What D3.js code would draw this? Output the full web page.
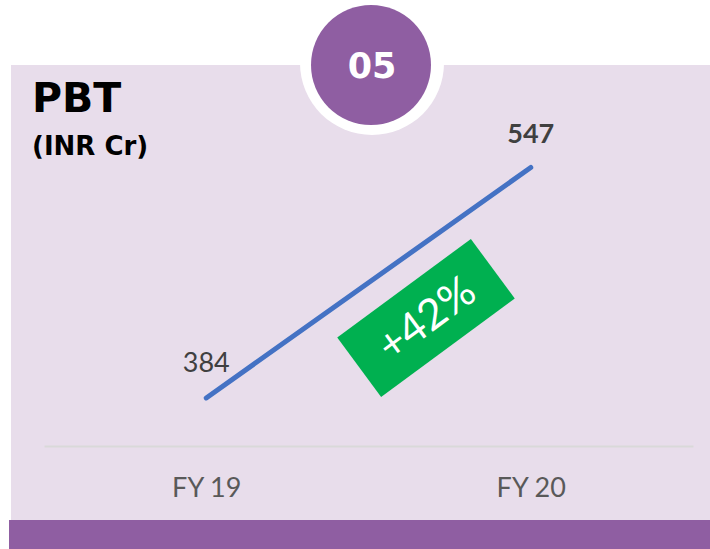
<!DOCTYPE html>
<html>
<head>
<meta charset="utf-8">
<script src="https://cdn.jsdelivr.net/npm/d3@7"></script>
<style>
  body { margin: 0; background: #fff; }
  svg { display: block; }
</style>
</head>
<body>
<script>
let width = 710;
let height = 549;

// chart data
let years = ["FY 19", "FY 20"];
let pbt = [384, 547];
let growthLabel = "+42%";
let badgeLabel = "05";

let svg = d3.select("body").append("svg")
            .attr("width", width)
            .attr("height", height);

// panel background + footer bar
svg.append("rect")
   .attr("x", 11).attr("y", 65)
   .attr("width", width - 11).attr("height", 455)
   .attr("fill", "#E8DDEB");
svg.append("rect")
   .attr("x", 9).attr("y", 520)
   .attr("width", width - 9).attr("height", height - 520)
   .attr("fill", "#8F5EA2");

// badge circle with white halo
svg.append("circle")
   .attr("cx", 372).attr("cy", 63).attr("r", 72)
   .attr("fill", "#fff");
svg.append("circle")
   .attr("cx", 371).attr("cy", 65).attr("r", 60)
   .attr("fill", "#8F5EA2");
svg.append("text")
   .attr("x", 372).attr("y", 78)
   .attr("text-anchor", "middle")
   .attr("font-family", "'DejaVu Sans', sans-serif")
   .attr("font-weight", 700)
   .attr("font-size", 35)
   .attr("fill", "#fff")
   .text(badgeLabel);

// titles
svg.append("text")
   .attr("x", 32).attr("y", 112)
   .attr("font-family", "'DejaVu Sans', sans-serif")
   .attr("font-weight", 700)
   .attr("font-size", 41)
   .attr("fill", "#000")
   .text("PBT");
svg.append("text")
   .attr("x", 32).attr("y", 155)
   .attr("font-family", "'DejaVu Sans', sans-serif")
   .attr("font-weight", 700)
   .attr("font-size", 26)
   .attr("fill", "#000")
   .text("(INR Cr)");

// scales
let x = d3.scalePoint().domain(years).range([44, 693]).padding(0.5);
let y = d3.scaleLinear().domain([350, 570]).range([446, 135]);

// baseline axis
let xAxis = d3.axisBottom(x).tickSize(0).tickPadding(32);
let axisG = svg.append("g")
   .attr("transform", "translate(0,446)")
   .call(xAxis);
axisG.select(".domain")
     .attr("stroke", "#D9D9D9")
     .attr("stroke-width", 2);
axisG.selectAll("text")
     .attr("font-family", "Lato, 'Liberation Sans', sans-serif")
     .attr("font-size", 27)
     .attr("fill", "#595959");

let data = years.map((d, i) => ({ year: d, value: pbt[i] }));

// the line
let line = d3.line().x(d => x(d.year)).y(d => y(d.value));
svg.append("path")
   .datum(data)
   .attr("d", line)
   .attr("fill", "none")
   .attr("stroke", "#4472C4")
   .attr("stroke-width", 5)
   .attr("stroke-linecap", "round");

// value labels
svg.selectAll(".val").data(data).enter().append("text")
   .attr("class", "val")
   .attr("x", d => x(d.year))
   .attr("y", (d, i) => y(d.value) + (i === 0 ? -26 : -25))
   .attr("text-anchor", "middle")
   .attr("font-family", "Lato, 'Liberation Sans', sans-serif")
   .attr("font-weight", (d, i) => i === 1 ? 700 : 400)
   .attr("font-size", 27)
   .attr("fill", "#404040")
   .text(d => d.value);

// growth badge, rotated along the line
let angle = Math.atan2(y(pbt[1]) - y(pbt[0]), x(years[1]) - x(years[0])) * 180 / Math.PI;
let growth = svg.append("g")
   .attr("transform", `translate(426,318) rotate(${angle - 1})`);
growth.append("rect")
   .attr("x", -83).attr("y", -37)
   .attr("width", 166).attr("height", 74)
   .attr("fill", "#00B050");
growth.append("text")
   .attr("x", 0).attr("y", 15)
   .attr("text-anchor", "middle")
   .attr("font-family", "Lato, 'Open Sans', sans-serif")
   .attr("font-weight", 400)
   .attr("font-size", 43)
   .attr("fill", "#fff")
   .text(growthLabel);
</script>
</body>
</html>
